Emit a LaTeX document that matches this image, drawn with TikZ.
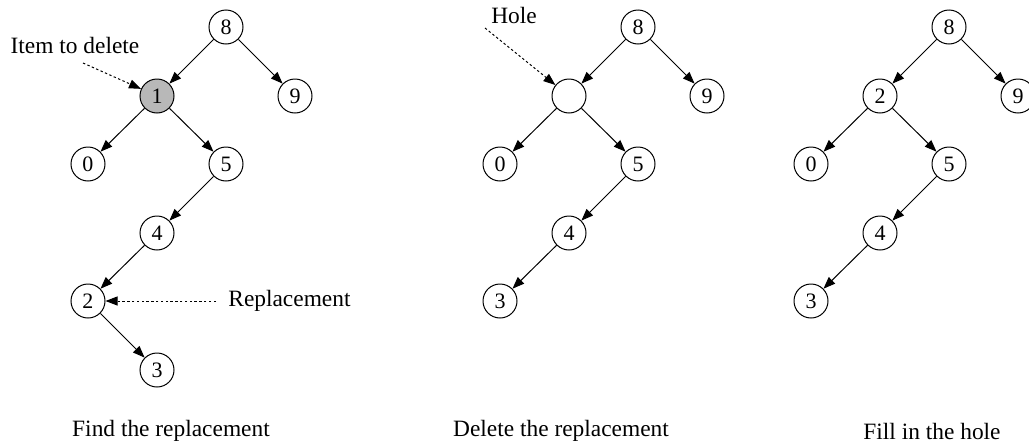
\documentclass[tikz,border=0pt]{standalone}
\usepackage{fontspec}
\setmainfont{Liberation Serif}
\usetikzlibrary{arrows.meta}
\begin{document}
\begin{tikzpicture}[x=0.5pt,y=-0.5pt,
  tn/.style={circle,draw,line width=0.5pt,minimum size=17pt,inner sep=0pt,font=\fontsize{11}{13}\selectfont},
  gn/.style={tn,fill=black!28},
  edge/.style={line width=0.5pt,-{Triangle[length=6pt,width=4.5pt]}},
  pointer/.style={line width=0.5pt,dash pattern=on 1.2pt off 1.2pt,-{Triangle[length=6pt,width=4.5pt]}},
  lbl/.style={inner sep=0pt,font=\fontsize{11.7}{14}\selectfont}]
\useasboundingbox (0,0) rectangle (1029,445);
% Panel 1
\node[tn] (a8) at (226,27) {8};
\node[gn] (a1) at (157,96) {1};
\node[tn] (a9) at (295,96) {9};
\node[tn] (a0) at (88,164) {0};
\node[tn] (a5) at (226,164) {5};
\node[tn] (a4) at (157,233) {4};
\node[tn] (a2) at (88,301) {2};
\node[tn] (a3) at (157,370) {3};
\draw[edge] (a8) -- (a1);
\draw[edge] (a8) -- (a9);
\draw[edge] (a1) -- (a0);
\draw[edge] (a1) -- (a5);
\draw[edge] (a5) -- (a4);
\draw[edge] (a4) -- (a2);
\draw[edge] (a2) -- (a3);
\node[lbl] (itd) at (75,45) {Item to delete};
\coordinate (itds) at (83,63);
\draw[pointer] (itds) -- (a1);
\node[lbl,anchor=west] (rep) at (228,301) {Replacement};
\coordinate (reps) at (216,301);
\draw[pointer] (reps) -- (a2);
\node[lbl] (c1) at (171,431) {Find the replacement};
% Panel 2
\node[tn] (b8) at (638,27) {8};
\node[tn] (bh) at (569,96) {};
\node[tn] (b9) at (707,96) {9};
\node[tn] (b0) at (500,164) {0};
\node[tn] (b5) at (638,164) {5};
\node[tn] (b4) at (569,233) {4};
\node[tn] (b3) at (500,301) {3};
\draw[edge] (b8) -- (bh);
\draw[edge] (b8) -- (b9);
\draw[edge] (bh) -- (b0);
\draw[edge] (bh) -- (b5);
\draw[edge] (b5) -- (b4);
\draw[edge] (b4) -- (b3);
\node[lbl] (hole) at (514,15) {Hole};
\coordinate (holes) at (485,28);
\draw[pointer] (holes) -- (bh);
\node[lbl] (c2) at (561,431) {Delete the replacement};
% Panel 3
\node[tn] (c8) at (949,27) {8};
\node[tn] (c2n) at (880,96) {2};
\node[tn] (c9) at (1018,96) {9};
\node[tn] (c0) at (811,164) {0};
\node[tn] (c5) at (949,164) {5};
\node[tn] (c4) at (880,233) {4};
\node[tn] (c3) at (811,301) {3};
\draw[edge] (c8) -- (c2n);
\draw[edge] (c8) -- (c9);
\draw[edge] (c2n) -- (c0);
\draw[edge] (c2n) -- (c5);
\draw[edge] (c5) -- (c4);
\draw[edge] (c4) -- (c3);
\node[lbl] (c3l) at (932,431) {Fill in the hole};
\end{tikzpicture}
\end{document}
